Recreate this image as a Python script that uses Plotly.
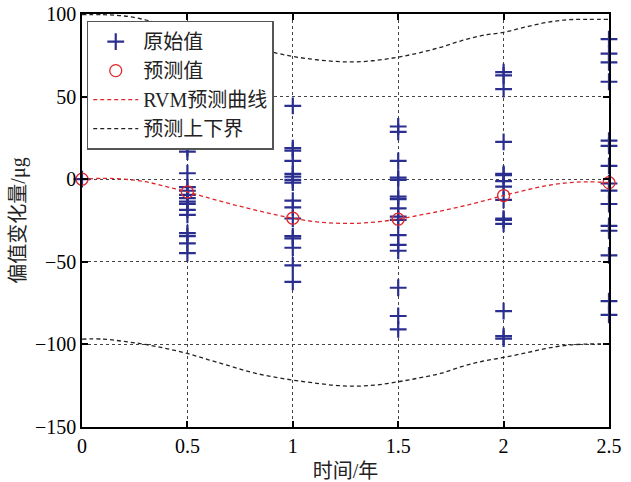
import plotly.graph_objects as go

# Raw observed values per time column
t_cols = [0.0, 0.5, 1.0, 1.5, 2.0, 2.5]
raw_vals = [
    [0.0],
    [18.8, 16.7, 3.6, -4.8, -7.0, -9.5, -11.5, -13.6, -15.0, -18.6, -21.6, -32.7, -34.4, -38.8, -44.8],
    [44.4, 18.8, 17.3, 11.1, 3.2, 1.6, -0.4, -2.1, -13.0, -17.0, -23.8, -34.4, -35.8, -41.5, -52.2, -62.1],
    [31.9, 28.7, 11.1, 1.0, -0.4, -10.5, -12.1, -17.6, -22.7, -24.6, -33.8, -39.8, -43.3, -65.7, -82.8, -90.9],
    [64.8, 62.8, 54.5, 22.6, 3.2, 2.4, -1.2, -4.5, -12.5, -23.9, -24.7, -27.1, -79.8, -95.0, -96.5],
    [84.8, 76.0, 70.7, 59.0, 23.4, 20.2, 8.1, -2.6, -6.9, -15.0, -28.3, -31.2, -46.1, -73.8, -82.1],
]

# Predicted values at the observation times
pred_t = [0.0, 0.5, 1.0, 1.5, 2.0, 2.5]
pred_v = [0.0, -7.7, -23.6, -24.2, -9.9, -2.1]

# RVM prediction curve and bounds
curve_t = [0.0, 0.1, 0.2, 0.3, 0.4, 0.5, 0.6, 0.7, 0.8, 0.9, 1.0, 1.1, 1.2,
           1.3, 1.4, 1.5, 1.6, 1.7, 1.8, 1.9, 2.0, 2.1, 2.2, 2.3, 2.4, 2.5]
curve_v = [0.0, 0.5, 0.0, -1.5, -4.5, -7.7, -11.3, -14.8, -18.0, -21.0, -23.6, -25.6, -26.6,
           -26.7, -25.8, -24.2, -21.8, -19.3, -16.5, -13.3, -9.9, -6.8, -4.0, -2.2, -1.6, -2.1]
upper_v = [99.6, 99.6, 98.8, 96.5, 93.0, 90.0, 86.5, 83.0, 80.0, 77.0, 74.3, 72.5, 71.3,
           71.0, 72.0, 73.9, 76.5, 79.8, 83.8, 87.0, 88.9, 92.0, 94.8, 96.5, 96.7, 96.7]
lower_v = [-96.8, -96.8, -98.2, -100.0, -102.5, -105.5, -109.3, -113.0, -116.8, -119.5, -121.6, -123.3, -124.8,
           -125.3, -124.5, -122.6, -120.3, -117.6, -113.5, -110.2, -107.9, -105.3, -102.5, -100.5, -99.8, -99.8]

x_ticks = [0, 0.5, 1, 1.5, 2, 2.5]
x_labels = ["0", "0.5", "1", "1.5", "2", "2.5"]
y_ticks = [-150, -100, -50, 0, 50, 100]

FONT = "Liberation Serif, Noto Sans CJK SC"
BLUE = "#2A2E8E"
RED = "#E0262B"

raw_x, raw_y = [], []
for t, vals in zip(t_cols, raw_vals):
    for v in vals:
        raw_x.append(t)
        raw_y.append(v)

fig = go.Figure()
fig.add_trace(go.Scatter(
    x=raw_x, y=raw_y, mode="markers", name="原始值",
    marker=dict(symbol="cross-thin", size=12, line=dict(color=BLUE, width=2.2), color=BLUE),
    cliponaxis=False,
))
fig.add_trace(go.Scatter(
    x=pred_t, y=pred_v, mode="markers", name="预测值",
    marker=dict(symbol="circle-open", size=12, line=dict(color=RED, width=1.3), color=RED),
    cliponaxis=False,
))
fig.add_trace(go.Scatter(
    x=curve_t, y=curve_v, mode="lines", name="RVM预测曲线",
    line=dict(color=RED, width=1.3, dash="4px,3px", shape="spline"),
))
fig.add_trace(go.Scatter(
    x=curve_t, y=upper_v, mode="lines", name="预测上下界",
    line=dict(color="#222222", width=1.3, dash="4px,3px", shape="spline"),
))
fig.add_trace(go.Scatter(
    x=curve_t, y=lower_v, mode="lines", name="预测上下界", showlegend=False,
    line=dict(color="#222222", width=1.3, dash="4px,3px", shape="spline"),
))

axis_common = dict(
    showline=True, linecolor="black", linewidth=1.5, mirror="ticks",
    ticks="inside", ticklen=6, tickwidth=2, tickcolor="black",
    showgrid=True, gridcolor="#444444", gridwidth=1, griddash="dot",
    zeroline=False, automargin=False,
    tickfont=dict(family=FONT, size=20, color="black"),
)

fig.update_xaxes(range=[0, 2.5], tickvals=x_ticks, ticktext=x_labels,
                 title=dict(text="时间/年", font=dict(family=FONT, size=20, color="#222"), standoff=8),
                 **axis_common)
fig.update_yaxes(range=[-150, 100], tickvals=y_ticks,
                 title=dict(text="偏值变化量/μg", font=dict(family=FONT, size=20, color="#222"), standoff=4),
                 **axis_common)

fig.update_layout(
    width=631, height=482,
    margin=dict(l=82, r=22, t=14, b=55),
    plot_bgcolor="white", paper_bgcolor="white",
    font=dict(family=FONT, size=20, color="black"),
    showlegend=True,
    legend=dict(
        x=0.009, y=0.984, xanchor="left", yanchor="top",
        bgcolor="white", bordercolor="#555555", borderwidth=1.5,
        font=dict(family=FONT, size=20, color="#222"),
        itemwidth=45, traceorder="normal",
    ),
)

fig.write_html("out.html")
